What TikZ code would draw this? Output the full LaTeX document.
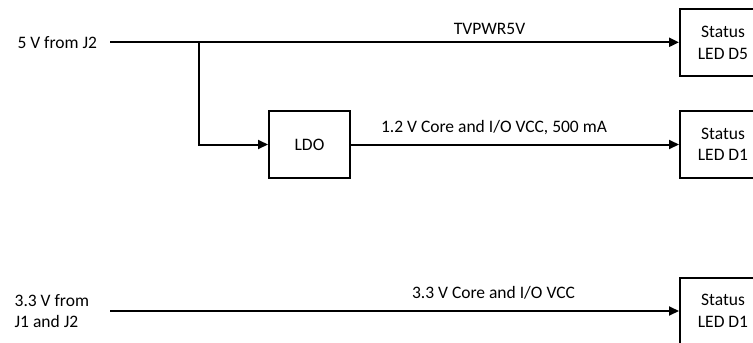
\documentclass[tikz,border=0pt]{standalone}
\usepackage{fontspec}
\setmainfont{Carlito}
\usetikzlibrary{arrows.meta}
\newcommand{\connectrail}[4]{%
  \draw[->] (#1.east) -- node[rail, pos=#3] {#4} (#1.east -| #2.west)}
\newcommand{\connectsplit}[2]{%
  \draw[->] (#1) |- (#2.west)}

\begin{document}
\begin{tikzpicture}[x=1pt, y=-1pt,
    box/.style={draw, line width=2pt, minimum width=81pt, minimum height=67pt,
    inner sep=0pt, align=center},
    led/.style={box, minimum width=86pt},
    input/.style={inner ysep=0pt, align=left},
    rail/.style={above=7.5pt, inner sep=0pt, text height=12pt, text depth=4pt},
    >={Triangle[length=10pt, width=9pt]}, line width=2pt,
    font=\fontsize{17.5pt}{21.5pt}\selectfont]
  \useasboundingbox (0,0) rectangle (753,343);

  % 5 V rail
  \node[input, anchor=east, inner xsep=12pt] (in5) at (110,42.3) {5 V from J2};
  \node[led] (d5) at (723,42.8) {Status\\LED D5};
  \coordinate (split) at (199,42.3);
  \node[box] (ldo) at (309.5,144.5) {LDO};
  \node[led] (d1) at (723,144.5) {Status\\LED D1};

  \connectrail{in5}{d5}{0.667}{\raisebox{-5pt}{TVPWR5V}};
  \connectsplit{split}{ldo};
  \connectrail{ldo}{d1}{0.436}{1.2 V Core and I/O VCC, 500 mA};

  % 3.3 V rail
  \node[input, anchor=east, inner xsep=20pt] (in33) at (110,311) {3.3 V from\\J1 and J2};
  \node[led] (d1b) at (723,311) {Status\\LED D1};

  \connectrail{in33}{d1b}{0.674}{3.3 V Core and I/O VCC};
\end{tikzpicture}
\end{document}
